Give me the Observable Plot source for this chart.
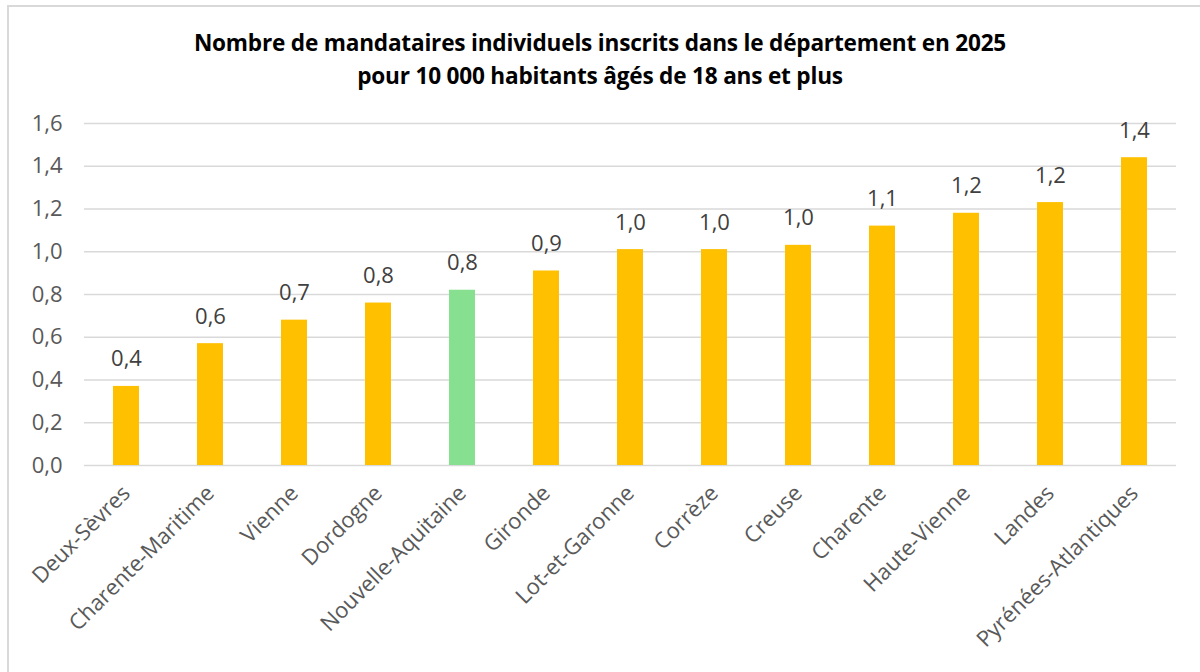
<!DOCTYPE html>
<html><head><meta charset="utf-8">
<script src="https://cdn.jsdelivr.net/npm/d3@7"></script>
<script src="https://cdn.jsdelivr.net/npm/@observablehq/plot@0.6"></script>
<style>
body{margin:0;background:#fff;}
#wrap{position:relative;width:1200px;height:672px;overflow:hidden;background:#fff;}
#frame{position:absolute;left:7px;top:5px;width:1300px;height:800px;border-left:2px solid #d9d9d9;border-top:2px solid #d9d9d9;}
#title{position:absolute;left:0;top:0;width:1200px;height:100px;text-align:center;font-family:"Open Sans",sans-serif;font-weight:bold;font-size:22.6px;line-height:33px;color:#000;padding-top:26px;box-sizing:border-box;letter-spacing:-0.2px;}
#chart{position:absolute;left:0;top:100px;}
</style></head>
<body><div id="wrap"><div id="frame"></div>
<div id="title">Nombre de mandataires individuels inscrits dans le département en 2025<br>pour 10 000 habitants âgés de 18 ans et plus</div>
<div id="chart"></div></div>
<script>
const departements = ["Deux-Sèvres","Charente-Maritime","Vienne","Dordogne","Nouvelle-Aquitaine","Gironde","Lot-et-Garonne","Corrèze","Creuse","Charente","Haute-Vienne","Landes","Pyrénées-Atlantiques"];
const valeurs = [0.37,0.57,0.68,0.76,0.82,0.91,1.01,1.01,1.03,1.12,1.18,1.23,1.44];
const regionName = "Nouvelle-Aquitaine";
const yTicks = [0,0.2,0.4,0.6,0.8,1.0,1.2,1.4,1.6];

const data = departements.map((d,i)=>({dep:d, v:valeurs[i], region:d===regionName}));
const fr = v => v.toFixed(1).replace(".", ",");

const plot = Plot.plot({
  width:1200, height:572,
  marginLeft:84, marginRight:24, marginTop:23, marginBottom:207,
  style:{fontFamily:"'Open Sans',sans-serif", fontSize:"22px", color:"#595959", background:"transparent"},
  x:{domain:departements, paddingInner:0.69, paddingOuter:0.345, label:null},
  y:{domain:[0,1.6], ticks:yTicks, label:null},
  marks:[
    Plot.gridY(yTicks,{stroke:"#d9d9d9", strokeOpacity:1, strokeWidth:1.5}),
    Plot.axisY(yTicks,{tickSize:0, tickPadding:22, tickFormat:fr, fontSize:22, fill:"#595959", label:null}),
    Plot.axisX({tickSize:0, tickPadding:24, tickRotate:-45, fontSize:22, fill:"#595959", label:null}),
    Plot.barY(data,{x:"dep", y:"v", fill:d=>d.region?"#86E08F":"#FFC000"}),
    Plot.text(data,{x:"dep", y:"v", text:d=>fr(d.v), dy:-27, fontSize:22, fill:"#404040"}),
  ]
});
document.getElementById("chart").appendChild(plot);
</script></body></html>
